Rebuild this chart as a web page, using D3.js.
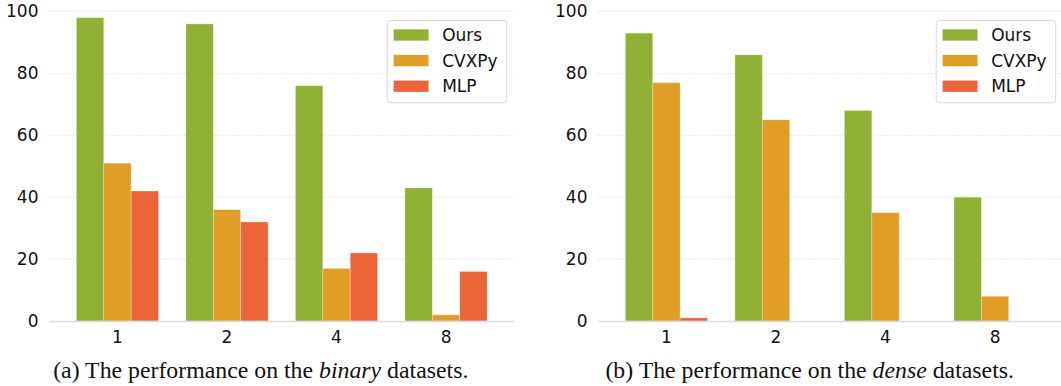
<!DOCTYPE html>
<html>
<head>
<meta charset="utf-8">
<script src="https://cdn.jsdelivr.net/npm/d3@7"></script>
<style>
  body { margin: 0; background: #fff; }
  svg { display: block; }
</style>
</head>
<body>
<svg id="chart" width="1061" height="386"></svg>
<script>
// data
const groups = ["1", "2", "4", "8"];
const seriesNames = ["Ours", "CVXPy", "MLP"];
const colors = ["#8fb034", "#e09d27", "#ec6439"];
const yTicks = [0, 20, 40, 60, 80, 100];

const binaryOurs = [98, 96, 76, 43];
const binaryCvxpy = [51, 36, 17, 2];
const binaryMlp = [42, 32, 22, 16];

const denseOurs = [93, 86, 68, 40];
const denseCvxpy = [77, 65, 35, 8];
const denseMlp = [1, 0, 0, 0];

const svg = d3.select("#chart");

function drawPanel(cfg) {
    const g = svg.append("g");
    const values = cfg.values;

    const x = d3.scaleBand()
        .domain(groups)
        .range([cfg.left, cfg.right])
        .paddingInner(0.25)
        .paddingOuter(0.25);

    const xs = d3.scaleBand()
        .domain(seriesNames)
        .range([0, x.bandwidth()]);

    const y = d3.scaleLinear()
        .domain([0, 100])
        .range([321, 11.5]);

    // grid
    g.append("g")
        .selectAll("line")
        .data(yTicks.slice(1))
        .enter()
        .append("line")
        .attr("x1", cfg.left)
        .attr("x2", cfg.right)
        .attr("y1", d => y(d))
        .attr("y2", d => y(d))
        .attr("stroke", "#d8d8d8")
        .attr("stroke-width", 0.8)
        .attr("stroke-dasharray", "1.5,1.5");

    // bars
    seriesNames.forEach((s, i) => {
        g.append("g")
            .selectAll("rect")
            .data(groups.map((grp, j) => ({ grp, v: values[i][j] })))
            .enter()
            .append("rect")
            .attr("x", d => x(d.grp) + xs(s))
            .attr("y", d => y(d.v))
            .attr("width", xs.bandwidth())
            .attr("height", d => y(0) - y(d.v))
            .attr("fill", colors[i])
            .attr("stroke", "rgba(255,255,255,0.35)")
            .attr("stroke-width", 0.8);
    });

    // bottom spine
    g.append("line")
        .attr("x1", cfg.left)
        .attr("x2", cfg.right)
        .attr("y1", y(0) + 0.5)
        .attr("y2", y(0) + 0.5)
        .attr("stroke", "#dcdcdc")
        .attr("stroke-width", 1.5);

    // y axis labels
    const yAxis = d3.axisLeft(y).tickValues(yTicks).tickSize(0).tickPadding(0);
    const ya = g.append("g")
        .attr("transform", `translate(${cfg.left - 10.5},0)`)
        .call(yAxis);
    ya.select(".domain").remove();
    ya.selectAll("text")
        .style("font-family", "DejaVu Sans")
        .style("font-size", "17px")
        .attr("fill", "#111");

    // x axis labels
    const xAxis = d3.axisBottom(x).tickSize(0).tickPadding(0);
    const xa = g.append("g")
        .attr("transform", `translate(0,${y(0) + 9.5})`)
        .call(xAxis);
    xa.select(".domain").remove();
    xa.selectAll("text")
        .style("font-family", "DejaVu Sans")
        .style("font-size", "17px")
        .attr("fill", "#111");

    // legend
    const lg = g.append("g").attr("transform", `translate(${cfg.right - 127.8},20)`);
    lg.append("rect")
        .attr("x", 0.5)
        .attr("y", 0.5)
        .attr("width", 119.5)
        .attr("height", 82.2)
        .attr("rx", 3)
        .attr("fill", "#fff")
        .attr("fill-opacity", 0.8)
        .attr("stroke", "#d9d9d9")
        .attr("stroke-width", 1);
    seriesNames.forEach((s, i) => {
        const row = lg.append("g").attr("transform", `translate(0,${15 + i * 25.6})`);
        row.append("rect")
            .attr("x", 6.8)
            .attr("y", -5.8)
            .attr("width", 35.2)
            .attr("height", 11.6)
            .attr("fill", colors[i])
            .attr("stroke", "rgba(255,255,255,0.35)")
            .attr("stroke-width", 0.8);
        row.append("text")
            .attr("x", 55.5)
            .attr("y", 0)
            .attr("dy", "0.36em")
            .style("font-family", "DejaVu Sans")
            .style("font-size", "17px")
            .attr("fill", "#111")
            .text(s);
    });

    // caption
    const cap = g.append("text")
        .attr("x", cfg.capX)
        .attr("y", 378)
        .attr("text-anchor", "middle")
        .style("font-family", "Liberation Serif")
        .style("font-size", "23.8px")
        .attr("fill", "#111");
    cap.append("tspan").text(cfg.caption[0]);
    cap.append("tspan").style("font-style", "italic").text(cfg.caption[1]);
    cap.append("tspan").text(cfg.caption[2]);
}

drawPanel({
    left: 49, right: 514.5,
    values: [binaryOurs, binaryCvxpy, binaryMlp],
    capX: 260.8,
    caption: ["(a) The performance on the ", "binary", " datasets."]
});

drawPanel({
    left: 598, right: 1063.5,
    values: [denseOurs, denseCvxpy, denseMlp],
    capX: 809.7,
    caption: ["(b) The performance on the ", "dense", " datasets."]
});
</script>
</body>
</html>
